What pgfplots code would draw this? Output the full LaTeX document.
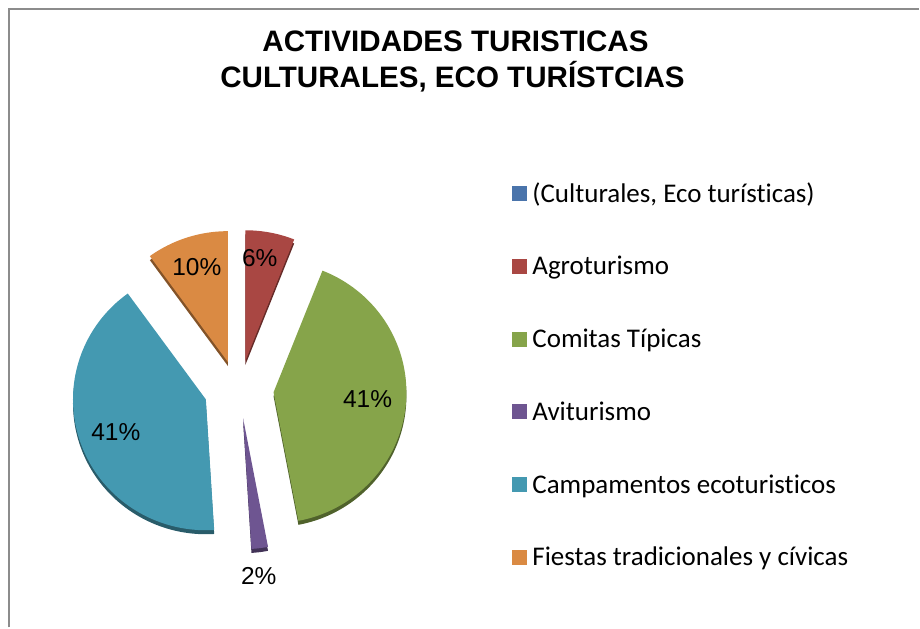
\documentclass[border=0pt]{standalone}
\usepackage{pgfplots}
\pgfplotsset{compat=1.18}
\usepackage{pgfplotstable}
\usepackage{fontspec}
\setmainfont{Liberation Sans}
\newfontfamily\carlito[Ligatures=NoCommon]{Carlito}

\definecolor{cBlue}{HTML}{4A74AB}
\definecolor{cRed}{HTML}{A94743}
\definecolor{cGreen}{HTML}{86A44A}
\definecolor{cPurple}{HTML}{6E5591}
\definecolor{cTeal}{HTML}{4499B1}
\definecolor{cOrange}{HTML}{DA8A43}
\definecolor{frame}{HTML}{8C8C8C}

\pgfplotstableread{
name value
Culturales 0
Agroturismo 6
Comitas 41
Aviturismo 2
Campamentos 41
Fiestas 10
}\piedata

\begin{document}
\begin{tikzpicture}
\pgfplotstablegetelem{1}{value}\of\piedata \let\vA\pgfplotsretval
\pgfplotstablegetelem{2}{value}\of\piedata \let\vB\pgfplotsretval
\pgfplotstablegetelem{3}{value}\of\piedata \let\vC\pgfplotsretval
\pgfplotstablegetelem{4}{value}\of\piedata \let\vD\pgfplotsretval
\pgfplotstablegetelem{5}{value}\of\piedata \let\vE\pgfplotsretval
% angles (clockwise from 12 o'clock)
\pgfmathsetmacro\sA{90}
\pgfmathsetmacro\eA{\sA-3.6*\vA}
\pgfmathsetmacro\eB{\eA-3.6*\vB}
\pgfmathsetmacro\eC{\eB-3.6*\vC}
\pgfmathsetmacro\eD{\eC-3.6*\vD}
\pgfmathsetmacro\eE{\eD-3.6*\vE}
% centre, explosion, radii
\def\cx{239}\def\cy{238}\def\dx{35}\def\dy{29}\def\rx{133}\def\ry{131}
\pgfmathsetmacro\xA{\cx+\dx*cos((\sA+\eA)/2)}\pgfmathsetmacro\yA{\cy+\dy*sin((\sA+\eA)/2)}
\pgfmathsetmacro\xB{\cx+\dx*cos((\eA+\eB)/2)}\pgfmathsetmacro\yB{\cy+\dy*sin((\eA+\eB)/2)}
\pgfmathsetmacro\xC{\cx+\dx*cos((\eB+\eC)/2)}\pgfmathsetmacro\yC{\cy+\dy*sin((\eB+\eC)/2)}
\pgfmathsetmacro\xD{\cx+\dx*cos((\eC+\eD)/2)}\pgfmathsetmacro\yD{\cy+\dy*sin((\eC+\eD)/2)}
\pgfmathsetmacro\xE{\cx+\dx*cos((\eD+\eE)/2)}\pgfmathsetmacro\yE{\cy+\dy*sin((\eD+\eE)/2)}
\pgfmathsetmacro\yAs{\yA-4}\pgfmathsetmacro\yBs{\yB-4}\pgfmathsetmacro\yCs{\yC-4}
\pgfmathsetmacro\yDs{\yD-4}\pgfmathsetmacro\yEs{\yE-4}
\begin{axis}[
  scale only axis, width=920pt, height=628pt,
  xmin=0, xmax=920, ymin=0, ymax=628,
  hide axis, clip=false,
  legend cell align=left,
  legend image code/.code={\fill[#1] (0pt,-7.5pt) rectangle (15pt,7.5pt);},
  legend style={draw=none, fill=none, inner sep=0pt, outer sep=0pt,
    at={(axis cs:513,447.5)}, anchor=north west,
    font=\carlito\fontsize{27}{32}\selectfont,
    row sep=45.8pt, column sep=5pt,
    nodes={inner sep=0pt, text height=22pt, text depth=5pt}},
]
\path (axis cs:0,0) rectangle (axis cs:920,628);
% frame
\draw[frame, line width=2pt] (axis cs:9,0) -- (axis cs:9,619) -- (axis cs:920,619);

\addlegendimage{fill=cBlue, draw=none}
\addlegendentry{(Culturales, Eco turísticas)}

% shadows (3D depth)
\addplot[forget plot, fill=cRed!60!black, draw=none, domain=\eA:\sA, samples=40] ({\xA+\rx*cos(x)},{\yAs+\ry*sin(x)}) -- (axis cs:\xA,\yAs) -- cycle;
\addplot[forget plot, fill=cGreen!60!black, draw=none, domain=\eB:\eA, samples=80] ({\xB+\rx*cos(x)},{\yBs+\ry*sin(x)}) -- (axis cs:\xB,\yBs) -- cycle;
\addplot[forget plot, fill=cPurple!60!black, draw=none, domain=\eC:\eB, samples=20] ({\xC+\rx*cos(x)},{\yCs+\ry*sin(x)}) -- (axis cs:\xC,\yCs) -- cycle;
\addplot[forget plot, fill=cTeal!60!black, draw=none, domain=\eD:\eC, samples=80] ({\xD+\rx*cos(x)},{\yDs+\ry*sin(x)}) -- (axis cs:\xD,\yDs) -- cycle;
\addplot[forget plot, fill=cOrange!60!black, draw=none, domain=\eE:\eD, samples=40] ({\xE+\rx*cos(x)},{\yEs+\ry*sin(x)}) -- (axis cs:\xE,\yEs) -- cycle;

% slices
\addplot[fill=cRed, draw=none, domain=\eA:\sA, samples=40] ({\xA+\rx*cos(x)},{\yA+\ry*sin(x)}) -- (axis cs:\xA,\yA) -- cycle;
\addlegendentry{Agroturismo}
\addplot[fill=cGreen, draw=none, domain=\eB:\eA, samples=80] ({\xB+\rx*cos(x)},{\yB+\ry*sin(x)}) -- (axis cs:\xB,\yB) -- cycle;
\addlegendentry{Comitas Típicas}
\addplot[fill=cPurple, draw=none, domain=\eC:\eB, samples=20] ({\xC+\rx*cos(x)},{\yC+\ry*sin(x)}) -- (axis cs:\xC,\yC) -- cycle;
\addlegendentry{Aviturismo}
\addplot[fill=cTeal, draw=none, domain=\eD:\eC, samples=80] ({\xD+\rx*cos(x)},{\yD+\ry*sin(x)}) -- (axis cs:\xD,\yD) -- cycle;
\addlegendentry{Campamentos ecoturisticos}
\addplot[fill=cOrange, draw=none, domain=\eE:\eD, samples=40] ({\xE+\rx*cos(x)},{\yE+\ry*sin(x)}) -- (axis cs:\xE,\yE) -- cycle;
\addlegendentry{Fiestas tradicionales y cívicas}

% percentage labels
\node[font=\fontsize{24.5}{28}\selectfont] at (axis cs:260,370) {6\%};
\node[font=\fontsize{24.5}{28}\selectfont] at (axis cs:197,361) {10\%};
\node[font=\fontsize{24.5}{28}\selectfont] at (axis cs:368,228) {41\%};
\node[font=\fontsize{24.5}{28}\selectfont] at (axis cs:116,195) {41\%};
\node[font=\fontsize{24.5}{28}\selectfont] at (axis cs:259,51) {2\%};

% title
\node[font=\bfseries\fontsize{29.6}{34}\selectfont, anchor=base] at (axis cs:456,576) {ACTIVIDADES TURISTICAS};
\node[font=\bfseries\fontsize{29.6}{34}\selectfont, anchor=base] at (axis cs:453,540) {CULTURALES, ECO TURÍSTCIAS};
\end{axis}
\end{tikzpicture}
\end{document}
